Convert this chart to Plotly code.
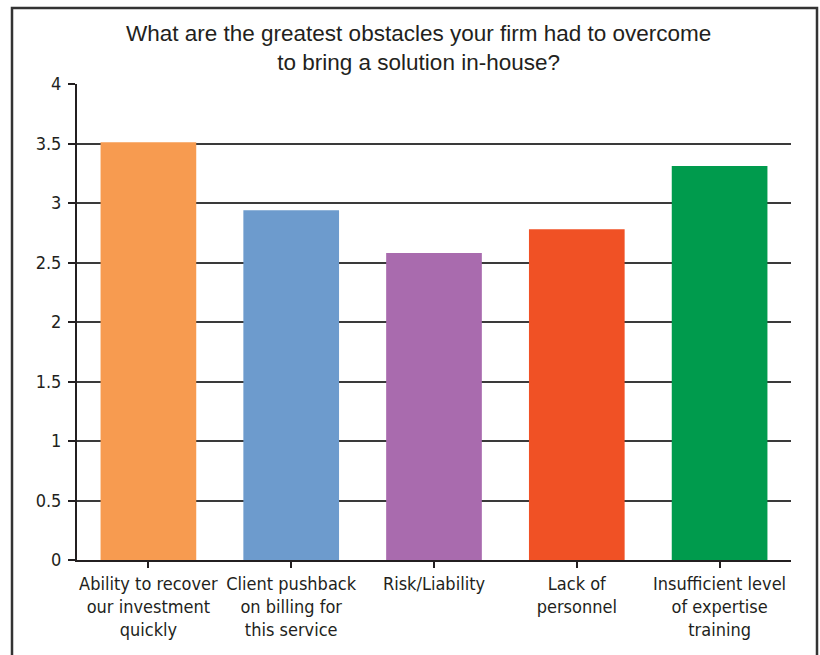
import plotly.graph_objects as go

categories = [
    "Ability to recover<br>our investment<br>quickly",
    "Client pushback<br>on billing for<br>this service",
    "Risk/Liability",
    "Lack of<br>personnel",
    "Insufficient level<br>of expertise<br>training",
]
values = [3.51, 2.94, 2.58, 2.78, 3.31]
colors = ["#F79B50", "#6D9BCD", "#A96BAE", "#F05125", "#009B4D"]
y_ticks = [0, 0.5, 1, 1.5, 2, 2.5, 3, 3.5, 4]
y_tick_labels = ["0", "0.5", "1", "1.5", "2", "2.5", "3", "3.5", "4"]
title_text = "What are the greatest obstacles your firm had to overcome<br>to bring a solution in-house?"

W, H = 820, 655
ml, mr, mt, mb = 77, 29, 84, 95
pw = W - ml - mr
ph = H - mt - mb

fig = go.Figure(go.Bar(
    x=categories, y=values, marker=dict(color=colors, line=dict(width=0)),
    width=0.67,
))

def px_to_paper_x(px):
    return (px - ml) / pw

def px_to_paper_y(py):
    return (H - mb - py) / ph

tick_font = dict(family="DejaVu Sans Condensed, Liberation Sans Narrow, sans-serif", size=18, color="#231F20")

fig.update_layout(
    width=W, height=H,
    margin=dict(l=ml, r=mr, t=mt, b=mb, autoexpand=False),
    paper_bgcolor="white", plot_bgcolor="white",
    showlegend=False,
    xaxis=dict(showline=True, linecolor="#231F20", linewidth=2, ticks="outside", ticklen=6,
               tickcolor="#231F20", tickwidth=2, tickfont=tick_font, showgrid=False,
               range=[-0.5, 4.5], tickangle=0, automargin=False),
    yaxis=dict(range=[0, 4], tickvals=y_ticks, ticktext=y_tick_labels, showline=True,
               linecolor="#231F20", linewidth=2, ticks="outside", ticklen=7, tickcolor="#231F20",
               tickwidth=2, showgrid=True, gridcolor="#3a3a3a", gridwidth=2,
               tickfont=tick_font, zeroline=False, automargin=False, ticklabelstandoff=3),
    bargap=0.33,
    annotations=[dict(text=title_text, xref="paper", yref="paper",
                      x=px_to_paper_x(418), y=px_to_paper_y(47.5),
                      xanchor="center", yanchor="middle", showarrow=False,
                      font=dict(family="Liberation Sans, Arial, sans-serif", size=22.5, color="#231F20"))],
    shapes=[dict(type="rect", xref="paper", yref="paper",
                 x0=px_to_paper_x(12), x1=px_to_paper_x(817),
                 y0=px_to_paper_y(700), y1=px_to_paper_y(8),
                 line=dict(color="#333333", width=2.5), fillcolor="rgba(0,0,0,0)",
                 layer="below")],
)

fig.write_html("out.html")
